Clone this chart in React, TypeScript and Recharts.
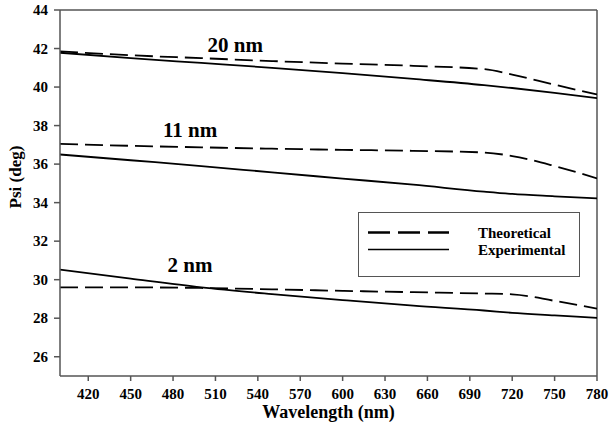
import React from 'react';
import { LineChart, Line, XAxis, YAxis, ReferenceLine, ReferenceDot } from 'recharts';

const wavelengths = [400, 450, 500, 550, 600, 650, 700, 720, 750, 780];
const theo20 = [41.85, 41.65, 41.5, 41.35, 41.22, 41.1, 40.93, 40.65, 40.12, 39.62];
const exp20 = [41.78, 41.5, 41.25, 41.0, 40.72, 40.42, 40.1, 39.95, 39.7, 39.42];
const theo11 = [37.05, 36.95, 36.87, 36.8, 36.74, 36.69, 36.6, 36.42, 35.9, 35.26];
const exp11 = [36.5, 36.2, 35.9, 35.57, 35.25, 34.93, 34.57, 34.45, 34.33, 34.22];
const theo2 = [29.6, 29.6, 29.57, 29.5, 29.42, 29.35, 29.28, 29.24, 28.9, 28.5];
const exp2 = [30.52, 30.05, 29.6, 29.25, 28.94, 28.65, 28.4, 28.28, 28.15, 28.02];

const xTicks = [420, 450, 480, 510, 540, 570, 600, 630, 660, 690, 720, 750, 780];
const yTicks = [26, 28, 30, 32, 34, 36, 38, 40, 42, 44];

const legendItems = ['Theoretical', 'Experimental'];

const annotations = [
  { label: '20 nm', x: 524, y: 42.18 },
  { label: '11 nm', x: 492, y: 37.77 },
  { label: '2 nm', x: 492, y: 30.76 },
];

const data = wavelengths.map((w, i) => ({
  w,
  t20: theo20[i],
  e20: exp20[i],
  t11: theo11[i],
  e11: exp11[i],
  t2: theo2[i],
  e2: exp2[i],
}));

const FONT = "'Liberation Serif', 'Times New Roman', Times, serif";
const AXIS = '#555';

const XTick = (props: any) => {
  const { x, y, payload } = props;
  return (
    <text x={x} y={y + 13} textAnchor="middle" dominantBaseline="central" fontSize={15} fontWeight="bold" fontFamily={FONT} style={{ fontFamily: FONT }} fill="#000">
      {payload.value}
    </text>
  );
};

const YTick = (props: any) => {
  const { x, y, payload } = props;
  return (
    <text x={x} y={y} textAnchor="end" dominantBaseline="central" fontSize={15} fontWeight="bold" fontFamily={FONT} style={{ fontFamily: FONT }} fill="#000">
      {payload.value}
    </text>
  );
};

const LegendBox = () => (
  <div
    style={{
      position: 'absolute',
      left: 358,
      top: 212,
      width: 222,
      height: 65,
      border: `1px solid ${AXIS}`,
      boxSizing: 'border-box',
      background: '#fff',
      fontFamily: FONT,
    }}
  >
    <svg width={220} height={63} style={{ position: 'absolute', left: 0, top: 0, fontFamily: FONT }}>
      <line x1={9} x2={90} y1={19.5} y2={19.5} stroke="#000" strokeWidth={2.5} strokeDasharray="22 8" />
      <line x1={9} x2={90} y1={36.5} y2={36.5} stroke="#000" strokeWidth={1.5} />
      {legendItems.map((t, i) => (
        <text key={t} x={119} y={19.5 + i * 17} dominantBaseline="central" fontSize={15} fontWeight="bold" fontFamily={FONT} style={{ fontFamily: FONT }} fill="#000">
          {t}
        </text>
      ))}
    </svg>
  </div>
);

export default function App() {
  return (
    <div style={{ position: 'absolute', left: 0, top: 0, width: 609, height: 437, background: '#fff', fontFamily: FONT }}>
      <LineChart width={609} height={437} data={data} margin={{ top: 10, right: 12, bottom: 31, left: 0 }} style={{ fontFamily: FONT }}>
        <XAxis
          dataKey="w"
          type="number"
          domain={[400, 780]}
          ticks={xTicks}
          allowDataOverflow
          height={30}
          stroke={AXIS}
          strokeWidth={1.5}
          tickSize={5}
          tickMargin={0}
          tick={<XTick />}
          tickLine={{ stroke: AXIS, strokeWidth: 1.5 }}
          label={(props: any) => {
            const vb = props.viewBox;
            return (
              <text x={vb.x + vb.width / 2} y={vb.y + 36} textAnchor="middle" dominantBaseline="central" fontSize={18} fontWeight="bold" fontFamily={FONT} style={{ fontFamily: FONT }} fill="#000">
                Wavelength (nm)
              </text>
            );
          }}
        />
        <YAxis
          type="number"
          domain={[25, 44]}
          ticks={yTicks}
          allowDataOverflow
          width={60}
          stroke={AXIS}
          strokeWidth={1.5}
          tickSize={6}
          tickMargin={6}
          tick={<YTick />}
          tickLine={{ stroke: AXIS, strokeWidth: 1.5 }}
          label={(props: any) => {
            const vb = props.viewBox;
            const cx = 15;
            const cy = vb.y + vb.height / 2 - 16;
            return (
              <text x={cx} y={cy} transform={`rotate(-90 ${cx} ${cy})`} textAnchor="middle" dominantBaseline="central" fontSize={17} fontWeight="bold" fontFamily={FONT} style={{ fontFamily: FONT }} fill="#000">
                Psi (deg)
              </text>
            );
          }}
        />
        <ReferenceLine y={44} stroke={AXIS} strokeWidth={1.5} />
        <ReferenceLine x={780} stroke={AXIS} strokeWidth={1.5} />
        <Line type="monotone" dataKey="t20" stroke="#000" strokeWidth={1.8} strokeDasharray="18 7" dot={false} isAnimationActive={false} />
        <Line type="monotone" dataKey="e20" stroke="#000" strokeWidth={1.8} dot={false} isAnimationActive={false} />
        <Line type="monotone" dataKey="t11" stroke="#000" strokeWidth={1.8} strokeDasharray="18 7" dot={false} isAnimationActive={false} />
        <Line type="monotone" dataKey="e11" stroke="#000" strokeWidth={1.8} dot={false} isAnimationActive={false} />
        <Line type="monotone" dataKey="t2" stroke="#000" strokeWidth={1.8} strokeDasharray="18 7" dot={false} isAnimationActive={false} />
        <Line type="monotone" dataKey="e2" stroke="#000" strokeWidth={1.8} dot={false} isAnimationActive={false} />
        {annotations.map((a) => (
          <ReferenceDot
            key={a.label}
            x={a.x}
            y={a.y}
            r={0}
            fill="none"
            stroke="none"
            label={(props: any) => {
              const vb = props.viewBox;
              return (
                <text x={vb.x + (vb.width || 0) / 2} y={vb.y + (vb.height || 0) / 2} textAnchor="middle" dominantBaseline="central" fontSize={21} fontWeight="bold" fontFamily={FONT} style={{ fontFamily: FONT }} fill="#000">
                  {a.label}
                </text>
              );
            }}
          />
        ))}
      </LineChart>
      <LegendBox />
    </div>
  );
}
